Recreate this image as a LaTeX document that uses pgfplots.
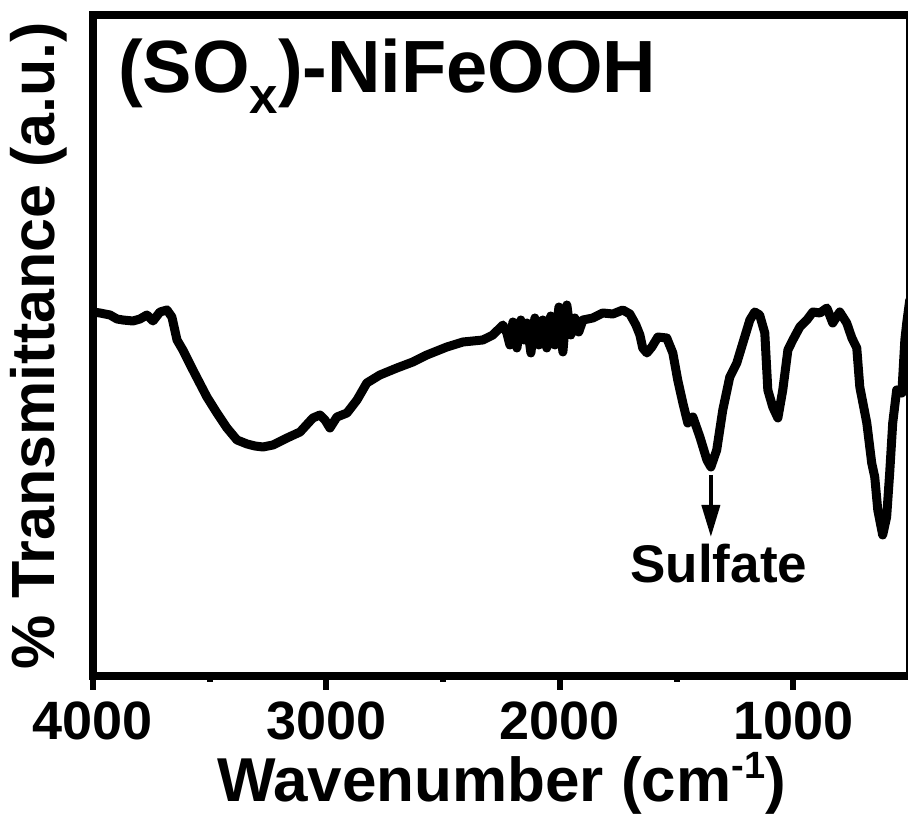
\documentclass[border=0pt]{standalone}
\usepackage{pgfplots}
\pgfplotsset{compat=1.18}
\usepackage{fontspec}
\setmainfont{Liberation Sans}
\usetikzlibrary{arrows.meta}

\begin{document}
\begin{tikzpicture}
\path[use as bounding box] (-93pt,-145pt) rectangle (815pt,676pt);
\begin{axis}[
  scale only axis, width=817pt, height=661pt,
  x dir=reverse, xmin=500, xmax=4000, ymin=0, ymax=661,
  axis line style={line width=8pt, line join=miter},
  tick pos=left, tick align=outside,
  xtick={1000,2000,3000,4000},
  xticklabels={1000,2000,3000,4000},
  minor xtick={1500,2500,3500},
  ytick=\empty, minor ytick={330},
  major tick length=14pt, minor tick length=6pt,
  every tick/.style={black, line width=6pt},
  xticklabel style={font=\fontsize{54}{54}\selectfont\bfseries, anchor=base, inner sep=0pt, yshift=-50pt},
  xlabel={\fontsize{62}{62}\selectfont\bfseries Wavenumber (cm\raisebox{0.38em}{\fontsize{38}{38}\selectfont -1})},
  xlabel style={at={([yshift=-126pt]axis description cs:0.5,0)}, anchor=base, inner sep=0pt},
  ylabel={\fontsize{61}{61}\selectfont\bfseries \% Transmittance (a.u.)},
  ylabel style={at={([xshift=-38pt]axis description cs:0,0.5)}, anchor=base, inner sep=0pt},
]
\addplot[black, line width=9pt, line join=round, line cap=round] coordinates {
(4000,364) (3970,363) (3927,361) (3897,357) (3872,356) (3829,355) (3799,357)
(3769,361) (3743,355) (3713,364) (3683,366) (3662,359) (3640,336) (3615,326)
(3572,306) (3512,279) (3469,263) (3426,248) (3383,236) (3340,232) (3306,230)
(3272,229) (3229,231) (3169,238) (3113,244) (3058,258) (3028,261) (3006,256)
(2985,248) (2955,259) (2912,263) (2869,276) (2827,293) (2771,301) (2698,308)
(2630,314) (2570,321) (2484,329) (2415,334) (2330,336) (2287,341) (2244,351)
(2227,343) (2214,331) (2201,354) (2184,328) (2167,356) (2154,336) (2141,353)
(2124,323) (2107,358) (2090,331) (2073,356) (2056,328) (2039,360) (2021,331)
(2004,369) (1987,324) (1970,371) (1953,341) (1936,358) (1919,344) (1901,356)
(1859,358) (1816,363) (1773,362) (1730,366) (1700,362) (1674,351) (1657,341)
(1645,328) (1627,323) (1606,329) (1580,339) (1542,338) (1516,323) (1495,296)
(1473,273) (1452,253) (1430,259) (1400,239) (1370,216) (1353,209) (1328,226)
(1302,266) (1272,299) (1242,313) (1216,333) (1186,356) (1165,364) (1144,361)
(1122,343) (1109,286) (1088,269) (1066,258) (1045,286) (1023,326) (1002,336)
(972,349) (942,356) (916,364) (886,363) (856,368) (831,353) (801,364)
(771,353) (749,338) (728,328) (715,289) (685,253) (664,213) (651,199)
(638,166) (617,141) (600,159) (587,203) (574,253) (557,286) (535,283)
(522,336) (514,353) (501,376)
};
\draw[black, line width=4pt, -{Triangle[width=18pt,length=32pt]}] (axis cs:1353,201) -- (axis cs:1353,139);
\node[anchor=base, inner sep=0pt, font=\fontsize{53}{53}\selectfont\bfseries] at (axis cs:1319,93) {Sulfate};
\node[anchor=base west, inner sep=0pt, font=\fontsize{74}{74}\selectfont\bfseries] at (axis cs:3893,583) {(SO\raisebox{-0.28em}{\fontsize{51}{51}\selectfont x})-NiFeOOH};
\end{axis}
\end{tikzpicture}
\end{document}
